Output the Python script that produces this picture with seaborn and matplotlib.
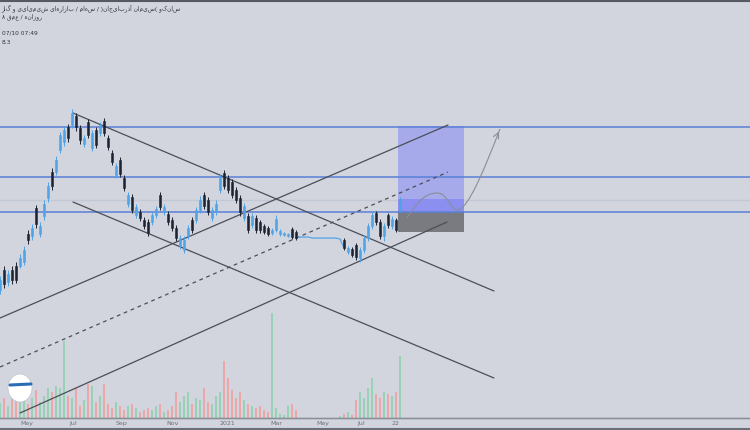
import matplotlib
matplotlib.use("Agg")
import matplotlib.pyplot as plt
import matplotlib.patches as mpatches
from matplotlib.path import Path
import numpy as np
import pandas as pd
import seaborn as sns

# daily candles (price, rials)
opens = [2100, 2300, 2180, 2300, 2340, 2340, 2380, 2660, 2640, 2920,
         2660, 2840, 3020, 3280, 3280, 3500, 3580, 3730, 3750, 3840,
         3720, 3560, 3780, 3520, 3700, 3670, 3790, 3620, 3470, 3250,
         3400, 3220, 2960, 3030, 2850, 2880, 2800, 2780, 2780, 2850,
         3050, 2880, 2860, 2800, 2720, 2540, 2500, 2640, 2800, 2800,
         2900, 3050, 3000, 2820, 2880, 3100, 3270, 3220, 3180, 3100,
         3020, 2820, 2840, 2750, 2820, 2780, 2740, 2720, 2670, 2700,
         2660, 2650, 2640, 2710, 2680, 2630, 2630, 2630, 2620, 2620,
         2620, 2620, 2620, 2620, 2620, 2610, 2600, 2480, 2510, 2550,
         2420, 2500, 2620, 2740, 2870, 2780, 2640, 2850, 2740, 2800,
         2900]
highs = [2240, 2340, 2300, 2340, 2380, 2460, 2540, 2700, 2760, 2950,
         2780, 3000, 3180, 3320, 3440, 3680, 3740, 3760, 3910, 3870,
         3750, 3650, 3810, 3700, 3730, 3780, 3820, 3650, 3500, 3370,
         3430, 3250, 3080, 3060, 2960, 2910, 2830, 2810, 2880, 2940,
         3080, 2960, 2890, 2830, 2750, 2650, 2640, 2750, 2830, 2930,
         3040, 3080, 3030, 2930, 3000, 3260, 3300, 3250, 3210, 3130,
         3050, 2970, 2870, 2870, 2850, 2800, 2760, 2740, 2720, 2850,
         2710, 2680, 2670, 2730, 2700, 2630, 2630, 2630, 2620, 2620,
         2620, 2620, 2620, 2620, 2620, 2610, 2620, 2540, 2530, 2570,
         2530, 2650, 2770, 2880, 2890, 2810, 2770, 2870, 2840, 2820,
         3030]
lows = [2060, 2120, 2140, 2160, 2170, 2320, 2350, 2560, 2600, 2720,
        2630, 2800, 2980, 3100, 3250, 3470, 3540, 3580, 3720, 3690,
        3560, 3530, 3620, 3490, 3520, 3640, 3640, 3500, 3350, 3220,
        3230, 3090, 2930, 2870, 2820, 2790, 2710, 2640, 2750, 2820,
        2900, 2850, 2750, 2690, 2590, 2510, 2470, 2610, 2670, 2770,
        2870, 2910, 2850, 2790, 2850, 3070, 3110, 3070, 3020, 2970,
        2840, 2790, 2670, 2720, 2670, 2670, 2660, 2640, 2650, 2680,
        2640, 2640, 2630, 2610, 2600, 2630, 2630, 2630, 2620, 2620,
        2620, 2620, 2620, 2620, 2620, 2610, 2500, 2460, 2430, 2400,
        2380, 2470, 2590, 2710, 2750, 2610, 2590, 2720, 2710, 2680,
        2880]
closes = [2200, 2160, 2260, 2200, 2200, 2420, 2500, 2600, 2720, 2760,
          2740, 2960, 3140, 3140, 3400, 3650, 3700, 3620, 3870, 3730,
          3600, 3620, 3650, 3670, 3550, 3750, 3670, 3530, 3380, 3340,
          3260, 3120, 3050, 2900, 2930, 2820, 2740, 2670, 2850, 2910,
          2930, 2930, 2780, 2720, 2620, 2620, 2600, 2720, 2700, 2900,
          3000, 2940, 2880, 2900, 2960, 3220, 3140, 3100, 3050, 3000,
          2880, 2940, 2700, 2840, 2700, 2700, 2680, 2660, 2700, 2810,
          2690, 2670, 2660, 2630, 2620, 2630, 2630, 2630, 2620, 2620,
          2620, 2620, 2620, 2620, 2620, 2610, 2520, 2520, 2450, 2430,
          2500, 2620, 2740, 2850, 2780, 2640, 2740, 2750, 2810, 2700,
          3000]
volumes = [150, 200, 120, 250, 180, 220, 300, 140, 200, 280,
           160, 220, 300, 260, 320, 300, 770, 220, 200, 300,
           120, 180, 340, 320, 160, 220, 340, 140, 100, 160,
           120, 80, 120, 140, 100, 60, 80, 100, 80, 120,
           140, 60, 80, 120, 260, 160, 220, 260, 140, 200,
           180, 300, 160, 140, 220, 260, 570, 400, 280, 200,
           260, 180, 140, 120, 100, 120, 80, 60, 1050, 100,
           40, 30, 120, 140, 80, 0, 0, 0, 0, 0,
           0, 0, 0, 0, 0, 20, 40, 60, 30, 180,
           260, 200, 300, 400, 240, 200, 260, 240, 220, 260,
           620]

tick_pos = [6.75, 18.25, 30.5, 43.25, 56.75, 69, 80.75, 90.25, 99]
tick_labels = ["May", "Jul", "Sep", "Nov", "2021", "Mar", "May", "Jul", "22"]

levels = [3730, 3230, 2880]
faint_level = 3000

# trendlines: (x0, y0, x1, y1) in bar index / price
channel_down = [(18.25, 3870, 123.5, 2090), (18.25, 2980, 123.5, 1220)]
channel_up = [(0, 1820, 112, 3750), (5, 870, 111.75, 2780)]
mid_dashed = (0, 1330, 112, 3280)

# long position box
box_x = (99.5, 116)
box_target, box_band, box_entry, box_stop = 3740, 3010, 2880, 2680

title_fa = "سانکو (سیمان آذربایجان) / سهام / بازارهای شیمیایی و گاز"
sub_fa = "روزانه / عمق ۸"
time_txt = "07/10 07:49"

BG = "#d2d5dd"
UP = "#4fa3e6"
DOWN = "#1d2330"

sns.set_style("white")
plt.rcParams["font.family"] = ["DejaVu Sans"]

df = pd.DataFrame({"o": opens, "h": highs, "l": lows, "c": closes, "v": volumes})
df["i"] = np.arange(len(df))
df["up"] = df["c"] >= df["o"]

fig = plt.figure(figsize=(7.5, 4.3), dpi=100, facecolor=BG)
ax = fig.add_axes([0, 12 / 430, 1, 418 / 430])
axv = ax.twinx()
ax.set_zorder(axv.get_zorder() + 1)
ax.patch.set_visible(False)
axv.set_facecolor(BG)

# volume
vcol = np.where(df["up"], "#92d2b2", "#eea3a3")
axv.bar(df["i"], df["v"], width=0.4, color=vcol, alpha=0.9, linewidth=0)
axv.set_ylim(0, 4180)
axv.set_yticks([])

# levels
for lv in levels:
    ax.axhline(lv, color="#5a7fd8", lw=1.1, zorder=2)
ax.axhline(faint_level, color="#c2c8d6", lw=1.0, zorder=1)

# trendlines
for x0, y0, x1, y1 in channel_down + channel_up:
    ax.plot([x0, x1], [y0, y1], color="#4b4e56", lw=0.9, zorder=3)
x0, y0, x1, y1 = mid_dashed
ax.plot([x0, x1], [y0, y1], color="#4b4e56", lw=0.9, ls=(0, (3, 3)), zorder=3)

# position box
bw = box_x[1] - box_x[0]
ax.add_patch(mpatches.Rectangle((box_x[0], box_entry), bw, box_target - box_entry,
                                color="#a7aaea", lw=0, zorder=1.5))
ax.add_patch(mpatches.Rectangle((box_x[0], box_entry), bw, box_band - box_entry,
                                color="#8b8ff0", lw=0, zorder=1.6))
ax.add_patch(mpatches.Rectangle((box_x[0], box_stop), bw, box_entry - box_stop,
                                color="#7a7b80", lw=0, zorder=1.6))

# candles
sns.lineplot(x=df["i"][74:87], y=df["c"][74:87], ax=ax, color=UP, lw=0.8, zorder=4)
cols = np.where(df["up"], UP, DOWN)
ax.vlines(df["i"], df["l"], df["h"], colors=cols, lw=0.7, zorder=5)
ax.bar(df["i"], (df["c"] - df["o"]).abs(), bottom=df[["o", "c"]].min(axis=1),
       width=0.55, color=cols, edgecolor=cols, linewidth=0.4, zorder=5)

# projected path
verts = [(101.75, 2820), (104, 2960), (106, 3070), (109.25, 3070),
         (112, 3070), (112.5, 2900), (114.25, 2900),
         (117, 2900), (121, 3300), (125, 3710)]
codes = [Path.MOVETO] + [Path.CURVE4] * 9
ax.add_patch(mpatches.PathPatch(Path(verts, codes), fill=False, ec="#8a8d98", lw=0.8, zorder=6))
ax.annotate("", xy=(125, 3710), xytext=(124.2, 3640),
            arrowprops=dict(arrowstyle="->", color="#8a8d98", lw=0.8), zorder=6)

ax.set_xlim(0, 187.5)
ax.set_ylim(820, 5000)
ax.set_xlabel("")
ax.set_ylabel("")
ax.set_yticks([])
ax.set_xticks(tick_pos)
ax.set_xticklabels(tick_labels)
ax.tick_params(axis="x", length=0, pad=2, labelsize=4.5, labelcolor="#6c707b")
for s in ["top", "right", "left"]:
    ax.spines[s].set_visible(False)
    axv.spines[s].set_visible(False)
ax.spines["bottom"].set_color("#8b8f99")
ax.spines["bottom"].set_linewidth(1.0)

# header text
fig.text(0.002, 1 - 8 / 430, title_fa[::-1], fontsize=4.2, color="#33363d", va="center")
fig.text(0.002, 1 - 17 / 430, sub_fa[::-1], fontsize=4.2, color="#33363d", va="center")
fig.text(0.002, 1 - 33 / 430, time_txt, fontsize=4.2, color="#33363d", va="center")
fig.text(0.002, 1 - 42 / 430, "8.3", fontsize=4.2, color="#33363d", va="center")

# watermark logo
fig.patches.append(mpatches.Ellipse((20 / 750, 1 - 388 / 430), 24 / 750, 28 / 430,
                                    transform=fig.transFigure, fc="white", ec="#bfc3cc", lw=0.5))
fig.lines.append(plt.Line2D([10 / 750, 31 / 750], [1 - 385 / 430, 1 - 384 / 430],
                            transform=fig.transFigure, color="#2a6db4", lw=2.2))

# frame lines
fig.lines.append(plt.Line2D([0, 1], [0.998, 0.998], transform=fig.transFigure, color="#555962", lw=1.5))
fig.lines.append(plt.Line2D([0, 1], [0.002, 0.002], transform=fig.transFigure, color="#6b6f78", lw=1.5))

fig.savefig("out.png", dpi=100, facecolor=BG)
